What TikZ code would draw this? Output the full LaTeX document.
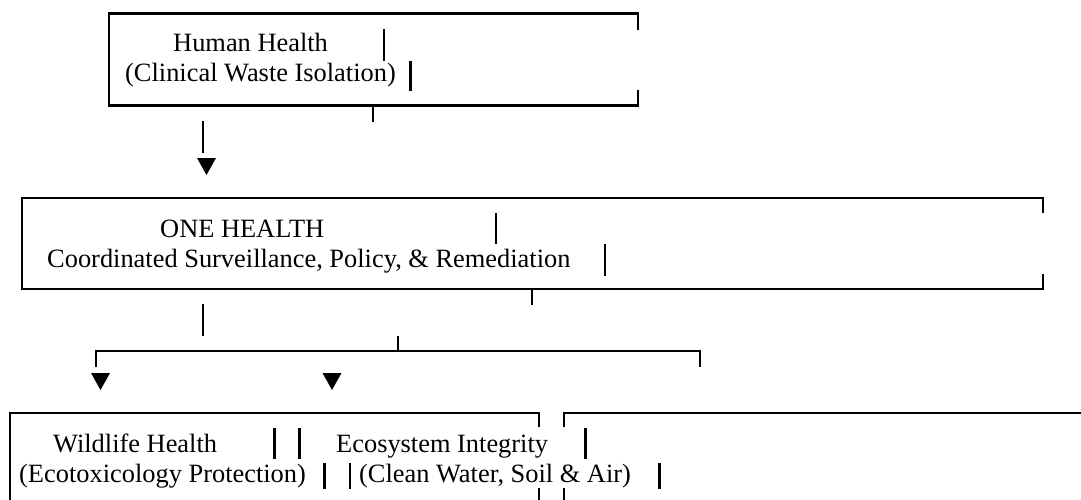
\documentclass[tikz,border=0pt]{standalone}
\usepackage{fontspec}
\setmainfont{Liberation Serif}
\begin{document}
\begin{tikzpicture}[x=1pt,y=-1pt,
  boxln/.style={line width=2.1pt,line join=miter,line cap=butt},
  barln/.style={line width=2.5pt,line cap=butt},
  lbl/.style={anchor=base west,inner sep=0pt,font=\fontsize{26.4}{30}\selectfont},
  tipfill/.style={fill=black}]
\useasboundingbox (0,0) rectangle (1081,500);

% ---------- top box: Human Health ----------
\draw[boxln] (638,30) -- (638,13.5) -- (109,13.5) -- (109,105.5) -- (638,105.5) -- (638,90);
\node[lbl] (hh1) at (173,52) {Human Health};
\node[lbl] (hh2) at (125,82) {(Clinical Waste Isolation)};
\draw[barln] (384,29) -- (384,61);
\draw[barln] (410.7,61) -- (410.7,91);
\coordinate (t1a) at (373,105.5);
\coordinate (t1b) at (373,122);
\draw[boxln] (t1a) -- (t1b);

% arrow down to ONE HEALTH
\coordinate (a1s) at (203,121);
\coordinate (a1e) at (203,153);
\draw[boxln] (a1s) -- (a1e);
\fill[tipfill] (197,158) -- (216,158) -- (206.5,175) -- cycle;

% ---------- ONE HEALTH box ----------
\draw[boxln] (1043,213) -- (1043,197.7) -- (22,197.7) -- (22,289.3) -- (1043,289.3) -- (1043,274);
\node[lbl] (oh1) at (160,237) {ONE HEALTH};
\node[lbl] (oh2) at (47,267) {Coordinated Surveillance, Policy, \& Remediation};
\draw[barln] (496,213) -- (496,244);
\draw[barln] (605,244) -- (605,276);
\coordinate (t2a) at (532,289.3);
\coordinate (t2b) at (532,305);
\draw[boxln] (t2a) -- (t2b);

% connector down to branch
\coordinate (c2s) at (203,304);
\coordinate (c2e) at (203,336);
\draw[boxln] (c2s) -- (c2e);
\coordinate (brT) at (398,336);
\coordinate (brM) at (398,351);
\draw[boxln] (brT) -- (brM);
\coordinate (brL) at (96,367);
\coordinate (brR) at (700,367);
\draw[boxln] (brL) -- (96,351) -- (700,351) -- (brR);
\fill[tipfill] (91,373) -- (110,373) -- (100.5,390) -- cycle;
\fill[tipfill] (322.5,373) -- (341.5,373) -- (332,390) -- cycle;

% ---------- bottom boxes ----------
\draw[boxln] (538.6,427) -- (538.6,412.7) -- (10,412.7) -- (10,502);
\draw[boxln] (563.6,427) -- (563.6,412.7) -- (1083,412.7);
\draw[boxln] (538.6,488) -- (538.6,502);
\draw[boxln] (563.6,488) -- (563.6,502);

\node[lbl] (wl1) at (53,452) {Wildlife Health};
\node[lbl] (wl2) at (19,482) {(Ecotoxicology Protection)};
\node[lbl] (ec1) at (336,452) {Ecosystem Integrity};
\node[lbl] (ec2) at (359,482) {(Clean Water, Soil \& Air)};

\draw[barln] (274.7,428) -- (274.7,459);
\draw[barln] (299.7,428) -- (299.7,459);
\draw[barln] (585.5,428) -- (585.5,459);
\draw[barln] (324.7,463) -- (324.7,489);
\draw[barln] (350,463) -- (350,489);
\draw[barln] (659.5,463) -- (659.5,489);
\end{tikzpicture}
\end{document}
